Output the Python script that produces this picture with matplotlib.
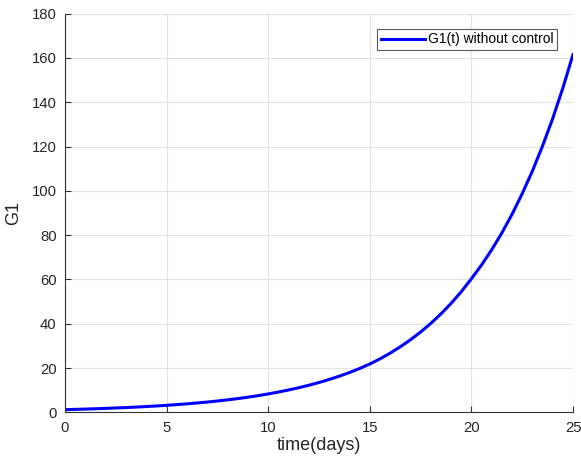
import matplotlib
matplotlib.use("Agg")
import matplotlib.pyplot as plt

# values (every half day)
t_days = [0, 0.5, 1, 1.5, 2, 2.5, 3, 3.5, 4, 4.5, 5, 5.5, 6, 6.5, 7, 7.5, 8, 8.5,
          9, 9.5, 10, 10.5, 11, 11.5, 12, 12.5, 13, 13.5, 14, 14.5, 15, 15.5,
          16, 16.5, 17, 17.5, 18, 18.5, 19, 19.5, 20, 20.5, 21, 21.5, 22, 22.5,
          23, 23.5, 24, 24.5, 25]
g1_values = [1.2, 1.32, 1.46, 1.6, 1.77, 1.95, 2.14, 2.36, 2.6, 2.86, 3.15, 3.47,
             3.82, 4.21, 4.63, 5.1, 5.62, 6.19, 6.82, 7.51, 8.3, 9.14, 10.07, 11.09,
             12.21, 13.45, 14.81, 16.31, 17.96, 19.78, 21.8, 24.13, 26.71, 29.57,
             32.74, 36.24, 40.12, 44.41, 49.17, 54.43, 60.3, 66.5, 73.4, 81.0, 89.4,
             98.7, 108.9, 120.2, 132.6, 146.4, 161.5]
x_ticks = [0, 5, 10, 15, 20, 25]
y_ticks = [0, 20, 40, 60, 80, 100, 120, 140, 160, 180]

plt.rcParams['font.family'] = ['Liberation Sans', 'DejaVu Sans']

fig = plt.figure(figsize=(5.81, 4.68), dpi=100)
ax = fig.add_axes([65/581, 55.7/468, 508/581, 398.7/468])

ax.plot(t_days, g1_values, color="#0000ff", linewidth=2.2, label="G1(t) without control")

ax.set_xlim(0, 25)
ax.set_ylim(0, 180)
ax.set_xticks(x_ticks)
ax.set_yticks(y_ticks)
ax.grid(True, color="#e3e3e3", linewidth=0.8)
ax.set_axisbelow(True)

for s in ["top", "right"]:
    ax.spines[s].set_visible(False)
for s in ["left", "bottom"]:
    ax.spines[s].set_color("#333333")
    ax.spines[s].set_linewidth(0.8)
ax.tick_params(direction="in", length=4, colors="#333333", labelsize=10.7, pad=6)
for lbl in ax.get_xticklabels() + ax.get_yticklabels():
    lbl.set_color("#262626")

ax.set_xlabel("time(days)", fontsize=13, color="#262626", labelpad=2)
ax.set_ylabel("G1", fontsize=13, color="#262626", labelpad=7)

leg = ax.legend(loc="upper right", bbox_to_anchor=(0.9685, 0.9614), borderaxespad=0,
                fontsize=10, fancybox=False, edgecolor="#333333", handlelength=3.2,
                borderpad=0.25, handletextpad=0.2)
leg.get_frame().set_linewidth(0.8)

fig.savefig("out.png", dpi=100)
